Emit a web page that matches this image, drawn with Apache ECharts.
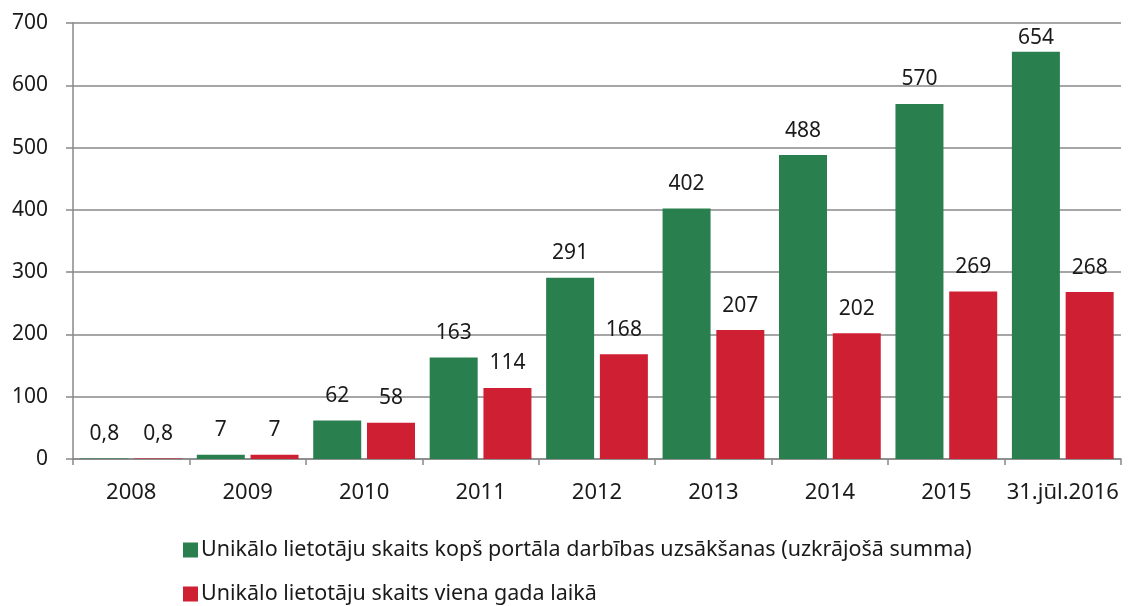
<!DOCTYPE html>
<html>
<head>
<meta charset="utf-8">
<script src="https://cdn.jsdelivr.net/npm/echarts@6/dist/echarts.min.js"></script>
<style>
  html, body { margin: 0; padding: 0; background: #fff; }
  #chart { width: 1139px; height: 606px; }
</style>
</head>
<body>
<div id="chart"></div>
<script>
let categories = ['2008', '2009', '2010', '2011', '2012', '2013', '2014', '2015', '31.jūl.2016']
let totalUsers = [0.8, 7, 62, 163, 291, 402, 488, 570, 654]
let yearUsers = [0.8, 7, 58, 114, 168, 207, 202, 269, 268]
let seriesNames = [
  'Unikālo lietotāju skaits kopš portāla darbības uzsākšanas (uzkrājošā summa)',
  'Unikālo lietotāju skaits viena gada laikā'
]

let font = '"Noto Sans", sans-serif'
let myChart = echarts.init(document.getElementById('chart'))

function labelFmt(p) {
  return String(p.value).replace('.', ',')
}

function legendRow(name, top) {
  return {
    left: 178,
    top: top,
    itemWidth: 15,
    itemHeight: 15,
    icon: 'rect',
    textStyle: { fontSize: 21.5, color: '#1a1a1a', fontFamily: font, padding: [0, 0, 0, -2] },
    data: [name]
  }
}

myChart.setOption({
  animation: false,
  textStyle: { fontFamily: font },
  grid: { left: 73, right: 18, top: 23, bottom: 147 },
  legend: [
    legendRow(seriesNames[0], 534),
    legendRow(seriesNames[1], 578)
  ],
  xAxis: {
    type: 'category',
    data: categories,
    axisLine: { lineStyle: { color: '#888', width: 1.5 } },
    axisTick: { show: true, length: 6, interval: 0, lineStyle: { color: '#888', width: 1.5 } },
    axisLabel: { fontSize: 22, color: '#1a1a1a', margin: 23, interval: 0 }
  },
  yAxis: {
    type: 'value',
    min: 0,
    max: 700,
    interval: 100,
    axisLine: { show: true, lineStyle: { color: '#888', width: 1.5 } },
    axisTick: { show: true, length: 7, lineStyle: { color: '#888', width: 1.5 } },
    axisLabel: { fontSize: 21, color: '#1a1a1a', margin: 25 },
    splitLine: { lineStyle: { color: '#888', width: 1.5 } }
  },
  series: [
    {
      name: seriesNames[0],
      type: 'bar',
      data: totalUsers.map(function (v, i) {
        return i === totalUsers.length - 1 ? { value: v, label: { distance: 3 } } : v
      }),
      barWidth: 48,
      barGap: '12%',
      itemStyle: { color: '#2a7f4f' },
      label: { show: true, position: 'top', distance: 14, fontSize: 21, color: '#1a1a1a', formatter: labelFmt }
    },
    {
      name: seriesNames[1],
      type: 'bar',
      data: yearUsers,
      barWidth: 48,
      itemStyle: { color: '#cf1f33' },
      label: { show: true, position: 'top', distance: 14, fontSize: 21, color: '#1a1a1a', formatter: labelFmt }
    }
  ]
})
</script>
</body>
</html>
